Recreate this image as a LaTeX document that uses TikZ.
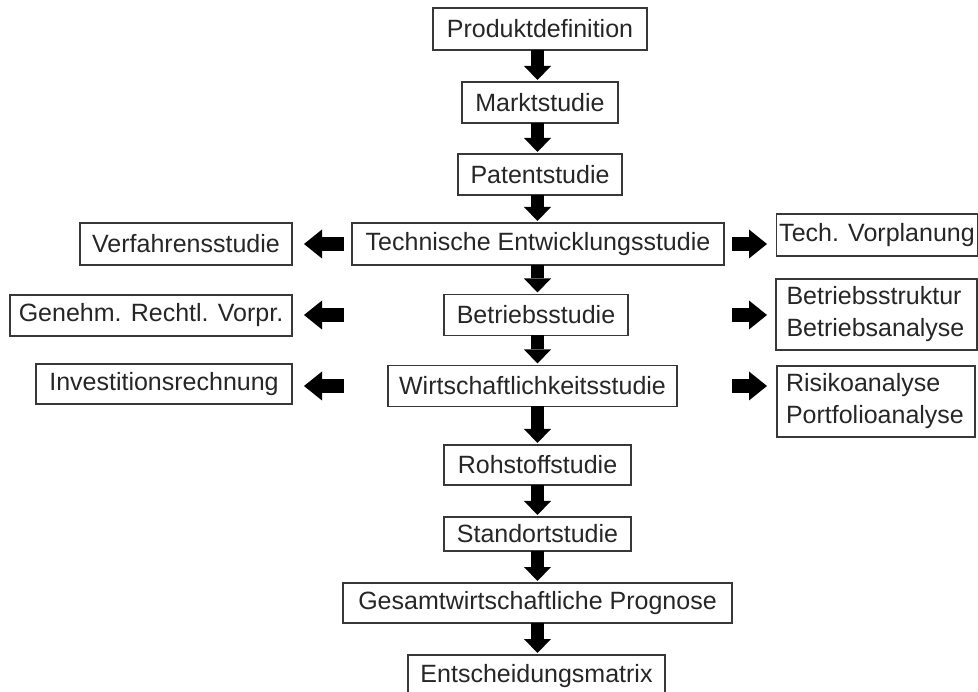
\documentclass[tikz,border=0pt]{standalone}
\usepackage{fontspec}
\setmainfont{Liberation Sans}
\usetikzlibrary{arrows.meta}
\begin{document}
\begin{tikzpicture}[x=1pt,y=-1pt,
  box/.style={draw=black!78, line width=1.2pt, inner sep=0pt, outer sep=0pt, text=black!85,
    font=\fontsize{25}{32}\selectfont},
  twobox/.style={box, align=left, text width=180pt},
  varrow/.style={line width=12.5pt, -{Triangle[width=27pt,length=14pt,line width=0pt]}, shorten >=2pt},
  harrow/.style={line width=14pt, -{Triangle[width=29pt,length=18pt,line width=0pt]}}]
\useasboundingbox (0,0) rectangle (978,692);
% main column
\node[box, minimum width=214pt, minimum height=42pt] (prod)   at (540,29)    {Produktdefinition};
\node[box, minimum width=156pt, minimum height=41pt] (markt)  at (540,102.5) {Marktstudie};
\node[box, minimum width=164pt, minimum height=41pt] (patent) at (540,174.5) {Patentstudie};
\node[box, minimum width=372pt, minimum height=42pt] (tech)   at (538,244)   {Technische Entwicklungsstudie};
\node[box, minimum width=184pt, minimum height=41pt] (betr)   at (536,315)   {Betriebsstudie};
\node[box, minimum width=289pt, minimum height=41pt] (wirt)   at (532.5,386) {Wirtschaftlichkeitsstudie};
\node[box, minimum width=187pt, minimum height=40pt] (roh)    at (537.5,465) {Rohstoffstudie};
\node[box, minimum width=187pt, minimum height=34pt] (stand)  at (537.5,534) {Standortstudie};
\node[box, minimum width=389pt, minimum height=40pt] (gesamt) at (537.5,603) {Gesamtwirtschaftliche Prognose};
\node[box, minimum width=257pt, minimum height=42pt] (ent)    at (536.5,676) {Entscheidungsmatrix};
% left column
\node[box, minimum width=212pt, minimum height=42pt] (verf)   at (186,244)   {Verfahrensstudie};
\node[box, minimum width=282pt, minimum height=41pt] (gen)    at (151,315.5) {Genehm. Rechtl. Vorpr.};
\node[box, minimum width=256pt, minimum height=40pt] (invest) at (164,384)   {Investitionsrechnung};
% right column
\node[box, minimum width=201.5pt, minimum height=42pt] (vorpl) at (877,235)   {Tech. Vorplanung};
\node[twobox, minimum width=201pt, minimum height=71pt] (bstr) at (876.5,314.5) {Betriebsstruktur\\Betriebsanalyse};
\node[twobox, minimum width=198pt, minimum height=71pt] (risk) at (876,401.5)   {Risikoanalyse\\Portfolioanalyse};
% helper coordinates
\coordinate (ax) at (537.5,0);
\coordinate (lA) at (344,0);
\coordinate (lB) at (304,0);
\coordinate (rA) at (732,0);
\coordinate (rB) at (767,0);
% vertical arrows
\draw[varrow] (prod.south -| ax)   -- (markt.north -| ax);
\draw[varrow] (markt.south -| ax)  -- (patent.north -| ax);
\draw[varrow] (patent.south -| ax) -- (tech.north -| ax);
\draw[varrow] (tech.south -| ax)   -- (betr.north -| ax);
\draw[varrow] (betr.south -| ax)   -- (wirt.north -| ax);
\draw[varrow] (wirt.south -| ax)   -- (roh.north -| ax);
\draw[varrow] (roh.south -| ax)    -- (stand.north -| ax);
\draw[varrow] (stand.south -| ax)  -- (gesamt.north -| ax);
\draw[varrow] (gesamt.south -| ax) -- (ent.north -| ax);
% horizontal arrows
\draw[harrow] (tech -| lA) -- (tech -| lB);
\draw[harrow] (betr -| lA) -- (betr -| lB);
\draw[harrow] (wirt -| lA) -- (wirt -| lB);
\draw[harrow] (tech -| rA) -- (tech -| rB);
\draw[harrow] (betr -| rA) -- (betr -| rB);
\draw[harrow] (wirt -| rA) -- (wirt -| rB);
\end{tikzpicture}
\end{document}
